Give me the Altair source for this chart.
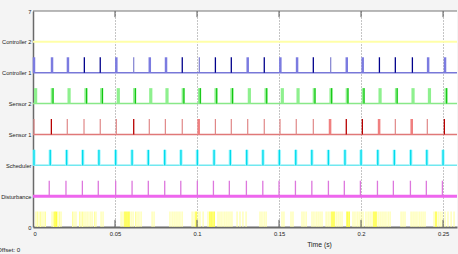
import altair as alt
import pandas as pd

# ---------------- data ----------------
row_names = ["0", "Disturbance", "Scheduler", "Sensor 1", "Sensor 2",
             "Controller 1", "Controller 2", "7"]
x_ticks = [0, 0.05, 0.1, 0.15, 0.2, 0.25]
x_max = 0.2585
spike_h = 0.5

ctrl1_t = [0.0006, 0.0116, 0.0213, 0.0313, 0.0410, 0.0508, 0.0614, 0.0712, 0.0811,
           0.0910, 0.1014, 0.1112, 0.1209, 0.1309, 0.1410, 0.1508, 0.1610, 0.1709,
           0.1815, 0.1913, 0.2010, 0.2112, 0.2209, 0.2313, 0.2409, 0.2512]
ctrl1_k = ["w", "w", "w", "d", "d", "w", "t", "w", "w", "d", "t", "d", "d", "w",
           "d", "w", "w", "d", "t", "w", "w", "d", "d", "d", "w", "w"]

sens2_t = [0.0016, 0.0118, 0.0220, 0.0323, 0.0419, 0.0520, 0.0620, 0.0718, 0.0817,
           0.0916, 0.1016, 0.1116, 0.1213, 0.1319, 0.1421, 0.1520, 0.1616, 0.1715,
           0.1817, 0.1916, 0.2014, 0.2116, 0.2216, 0.2317, 0.2417, 0.2518]
sens2_k = ["l", "d", "l", "d", "d", "l", "d", "l", "l", "d", "d", "d", "d", "l",
           "d", "l", "l", "d", "d", "d", "d", "l", "d", "l", "l", "d"]

sens1_t = [0.0006, 0.0112, 0.0209, 0.0311, 0.0410, 0.0508, 0.0614, 0.0709, 0.0807,
           0.0910, 0.1010, 0.1112, 0.1209, 0.1309, 0.1410, 0.1506, 0.1605, 0.1709,
           0.1811, 0.1910, 0.2008, 0.2110, 0.2209, 0.2309, 0.2404, 0.2508]
sens1_k = ["t", "d", "t", "t", "t", "t", "d", "t", "t", "t", "w", "t", "t", "t",
           "t", "t", "t", "t", "w", "d", "d", "w", "t", "w", "t", "d"]

sched_t = [0.0006, 0.0105, 0.0205, 0.0303, 0.0402, 0.0504, 0.0604, 0.0703, 0.0803,
           0.0902, 0.1002, 0.1104, 0.1203, 0.1303, 0.1402, 0.1502, 0.1602, 0.1700,
           0.1801, 0.1902, 0.2000, 0.2102, 0.2203, 0.2303, 0.2401, 0.2500]

dist_t = [0.0099, 0.0201, 0.0301, 0.0398, 0.0504, 0.0604, 0.0703, 0.0803, 0.0901,
          0.1002, 0.1100, 0.1197, 0.1301, 0.1401, 0.1500, 0.1600, 0.1700, 0.1801,
          0.1898, 0.1996, 0.2100, 0.2197, 0.2301, 0.2398, 0.2496]

# idle-task activity (bottom row), ms
idle_ms = [1.8, 2.7, 3.7, 4.6, 5.5, 6.7, 7.6, 11.6, 12.5, 13.4, 14.3, 15.2, 16.2, 17.1,
           24.1, 25.0, 26.2, 28.4, 29.3, 30.2, 31.1, 32.3, 33.5, 34.8, 36.0, 37.5, 38.4,
           41.5, 42.7, 53.7, 54.9, 56.1, 57.3, 58.5, 59.8, 61.0, 62.5, 63.4, 64.6, 65.9,
           72.6, 73.8, 83.5, 84.8, 86.0, 87.2, 88.4, 89.6, 90.9, 97.0, 98.2, 99.4, 100.6,
           101.8, 103.7, 106.7, 107.9, 109.1, 110.4, 112.8, 114.0, 115.2, 116.5, 117.7,
           118.9, 120.1, 121.3, 124.4, 126.2, 128.0, 129.9, 138.4, 139.6, 140.9, 142.1,
           151.8, 153.0, 157.3, 158.5, 164.0, 165.2, 166.5, 170.1, 171.3, 172.6, 173.8,
           175.0, 176.2, 178.7, 179.9, 181.1, 182.3, 183.5, 184.8, 186.0, 187.2, 188.4,
           191.5, 192.7, 195.1, 196.3, 197.6, 198.8, 200.0, 201.2, 203.0, 204.3, 205.5,
           206.7, 207.9, 209.1, 210.4, 211.6, 212.8, 214.0, 215.2, 216.5, 217.7, 224.4,
           225.6, 226.8, 230.5, 231.7, 232.9, 234.1, 235.4, 236.6, 237.8, 239.0, 244.5,
           245.7, 247.0, 248.2, 249.4, 251.2, 253.0, 254.9, 256.7]
idle_bright = [13.4, 14.3, 56.1, 57.3, 58.5, 85.0, 99.4, 107.9, 109.1, 110.4, 182.3,
               183.5, 191.5, 192.7, 207.9, 209.1, 245.7]

# ---------------- styles ----------------
base_rows = [  # level, color, width
    (6, "#ffffa8", 2.0),
    (5, "#7878d8", 1.5),
    (4, "#88e888", 1.5),
    (3, "#e07878", 1.5),
    (2, "#70e8f0", 1.5),
    (1, "#ee66ee", 3.0),
]

segs = []


def add(t, lvl, color, w, dx=0.0):
    segs.append(dict(t=t + dx, y=lvl, y2=lvl + spike_h, c=color, w=w))


for t, k in zip(ctrl1_t, ctrl1_k):
    if k == "w":
        add(t, 5, "#7b7be0", 2.5)
    elif k == "t":
        add(t, 5, "#8080d0", 1.2)
    else:
        add(t, 5, "#00008c", 1.3)
for t, k in zip(sens2_t, sens2_k):
    add(t, 4, "#8ef08e", 3.2)
    if k == "d":
        add(t, 4, "#00c000", 1.0, 0.0004)
for t, k in zip(sens1_t, sens1_k):
    if k == "w":
        add(t, 3, "#f08080", 2.6)
    elif k == "d":
        add(t, 3, "#b80000", 1.3)
    else:
        add(t, 3, "#e08888", 1.2)
for t in sched_t:
    add(t, 2, "#aaf8ff", 3.4)
    add(t, 2, "#00dcec", 1.4)
for t in dist_t:
    add(t, 1, "#dd77dd", 1.3)
for m in idle_ms:
    bright = m in idle_bright
    add(m / 1000.0, 0, "#ffff40" if bright else "#ffffa0", 1.6 if bright else 1.1)

seg_df = pd.DataFrame(segs)
base_df = pd.DataFrame([dict(y=l, x0=0.0, x1=x_max, c=c, w=w) for l, c, w in base_rows])

tick_df = pd.DataFrame(
    [dict(t=v, y=0.0, y2=0.23) for v in x_ticks[1:]]
    + [dict(t=v, y=7.0, y2=6.8) for v in x_ticks[1:]]
)
top_df = pd.DataFrame([dict(x0=0.0, x1=x_max, y=7.0)])

FONT = "Liberation Sans, Arial, sans-serif"

xs = alt.Scale(domain=[0, x_max], nice=False, zero=False)
ys = alt.Scale(domain=[0, 7], nice=False, zero=False)

label_expr = ("datum.value == 0 ? '0' : datum.value == 1 ? 'Disturbance' : "
              "datum.value == 2 ? 'Scheduler' : datum.value == 3 ? 'Sensor 1' : "
              "datum.value == 4 ? 'Sensor 2' : datum.value == 5 ? 'Controller 1' : "
              "datum.value == 6 ? 'Controller 2' : '7'")

x_axis = alt.Axis(values=x_ticks, grid=True, gridDash=[1, 2], gridColor="#8a8a8a",
                  gridWidth=1, ticks=False, domainColor="#6a6a6a", domainWidth=2,
                  labelFont=FONT, labelFontSize=5.8, labelColor="#222", labelPadding=3,
                  labelOverlap=False,
                  labelExpr="datum.value == 0 ? '0' : format(datum.value, '.2~f')",
                  title="Time (s)", titleFont=FONT, titleFontSize=6.8,
                  titleFontWeight="normal", titleColor="#222", titleX=286, titleY=14,
                  titleAlign="center")
y_axis = alt.Axis(values=[0, 1, 2, 3, 4, 5, 6, 7], grid=False, ticks=False,
                  domainColor="#6a6a6a", domainWidth=1.5, labelFont=FONT,
                  labelFontSize=5.7, labelColor="#222", labelPadding=2,
                  labelOverlap=False, labelBound=False,
                  labelExpr=label_expr, title=None)

X = lambda f: alt.X(f, scale=xs, axis=x_axis, title="Time (s)")
Y = lambda f: alt.Y(f, scale=ys, axis=y_axis, title=None)

base = alt.Chart(base_df).mark_rule().encode(
    x=X("x0:Q"),
    x2="x1:Q",
    y=Y("y:Q"),
    color=alt.Color("c:N", scale=None),
    strokeWidth=alt.StrokeWidth("w:Q", scale=None),
)

spikes = alt.Chart(seg_df).mark_rule().encode(
    x=X("t:Q"),
    y=Y("y:Q"),
    y2="y2:Q",
    color=alt.Color("c:N", scale=None),
    strokeWidth=alt.StrokeWidth("w:Q", scale=None),
)

ticks = alt.Chart(tick_df).mark_rule(color="#555", strokeWidth=1).encode(
    x=X("t:Q"), y=Y("y:Q"), y2="y2:Q")

top = alt.Chart(top_df).mark_rule(color="#777", strokeWidth=1.2).encode(
    x=X("x0:Q"), x2="x1:Q", y=Y("y:Q"))

offset_txt = alt.Chart(pd.DataFrame({"s": ["Offset: 0"]})).mark_text(
    font=FONT, fontSize=6.2, color="#222", align="left", baseline="middle"
).encode(text="s:N", x=alt.value(-36), y=alt.value(239))

chart = alt.layer(base, spikes, ticks, top, offset_txt).properties(
    width=424, height=216,
    autosize=alt.AutoSizeParams(type="none"),
    padding={"left": 33, "top": 11, "right": 1, "bottom": 27},
).configure(background="#f4f4f4").configure_view(fill="white", stroke=None)

chart.save("out.html", embed_options={"renderer": "svg", "actions": False})
